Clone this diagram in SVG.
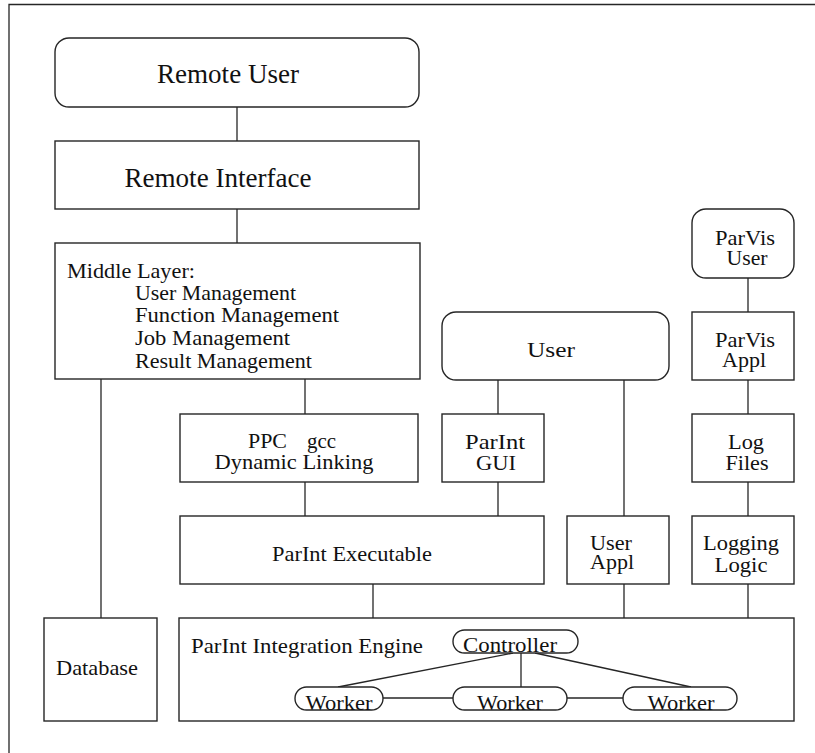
<svg xmlns="http://www.w3.org/2000/svg" width="815" height="753" viewBox="0 0 815 753">
<style>
.b{fill:#fff;stroke:#262626;stroke-width:1.4}
.c{fill:none;stroke:#262626;stroke-width:1.3}
text{fill:#111;font-size:22px}
.m{text-anchor:middle}
.big{font-size:27px}
</style>
<rect width="815" height="753" fill="#fff"/>
<path class="c" d="M9,753 V4.5 H815" stroke-width="1.6"/>
<g font-family="'Liberation Serif', Tinos, 'Nimbus Roman', 'DejaVu Serif', serif">
<g id="connectors">
<line class="c" x1="237" y1="107" x2="237" y2="141"/>
<line class="c" x1="237" y1="209" x2="237" y2="243"/>
<line class="c" x1="101" y1="379" x2="101" y2="618"/>
<line class="c" x1="305" y1="379" x2="305" y2="414"/>
<line class="c" x1="305" y1="482" x2="305" y2="516"/>
<line class="c" x1="498" y1="380" x2="498" y2="414"/>
<line class="c" x1="498" y1="482" x2="498" y2="516"/>
<line class="c" x1="624" y1="380" x2="624" y2="516"/>
<line class="c" x1="748" y1="278" x2="748" y2="312"/>
<line class="c" x1="748" y1="380" x2="748" y2="414"/>
<line class="c" x1="748" y1="482" x2="748" y2="516"/>
<line class="c" x1="373" y1="584" x2="373" y2="618"/>
<line class="c" x1="624" y1="584" x2="624" y2="618"/>
<line class="c" x1="748" y1="584" x2="748" y2="618"/>
</g>
<g id="remote-user"><rect class="b" x="55" y="38" width="364" height="69" rx="14"/><text class="m big" x="228" y="83" textLength="142" lengthAdjust="spacingAndGlyphs">Remote User</text></g>
<g id="remote-interface"><rect class="b" x="55" y="141" width="364" height="68"/><text class="m big" x="218" y="187" textLength="187" lengthAdjust="spacingAndGlyphs">Remote Interface</text></g>
<g id="middle-layer"><rect class="b" x="55" y="243" width="365" height="136"/>
<text x="67" y="278" textLength="128" lengthAdjust="spacingAndGlyphs">Middle Layer:</text>
<text x="135" y="300" textLength="161" lengthAdjust="spacingAndGlyphs">User Management</text>
<text x="135" y="322" textLength="204" lengthAdjust="spacingAndGlyphs">Function Management</text>
<text x="135" y="345" textLength="155" lengthAdjust="spacingAndGlyphs">Job Management</text>
<text x="135" y="368" textLength="177" lengthAdjust="spacingAndGlyphs">Result Management</text></g>
<g id="ppc"><rect class="b" x="180" y="414" width="238" height="68"/><text x="248" y="448" textLength="39" lengthAdjust="spacingAndGlyphs">PPC</text><text x="307" y="448" textLength="29" lengthAdjust="spacingAndGlyphs">gcc</text><text class="m" x="294" y="469" textLength="159" lengthAdjust="spacingAndGlyphs">Dynamic Linking</text></g>
<g id="user"><rect class="b" x="442" y="312" width="227" height="68" rx="14"/><text class="m" x="551" y="357" font-size="24" textLength="48" lengthAdjust="spacingAndGlyphs">User</text></g>
<g id="parint-gui"><rect class="b" x="442" y="414" width="102" height="68"/><text class="m" x="495" y="449" textLength="60" lengthAdjust="spacingAndGlyphs">ParInt</text><text class="m" x="496" y="470" textLength="40" lengthAdjust="spacingAndGlyphs">GUI</text></g>
<g id="parvis-user"><rect class="b" x="692" y="209" width="102" height="69" rx="14"/><text class="m" x="745" y="245" textLength="60" lengthAdjust="spacingAndGlyphs">ParVis</text><text class="m" x="747" y="265" textLength="41" lengthAdjust="spacingAndGlyphs">User</text></g>
<g id="parvis-appl"><rect class="b" x="692" y="312" width="102" height="68"/><text class="m" x="745" y="347" textLength="60" lengthAdjust="spacingAndGlyphs">ParVis</text><text class="m" x="744" y="367" textLength="44" lengthAdjust="spacingAndGlyphs">Appl</text></g>
<g id="log-files"><rect class="b" x="692" y="414" width="102" height="68"/><text class="m" x="746" y="449" textLength="36" lengthAdjust="spacingAndGlyphs">Log</text><text class="m" x="747" y="470" textLength="43" lengthAdjust="spacingAndGlyphs">Files</text></g>
<g id="parint-executable"><rect class="b" x="180" y="516" width="364" height="68"/><text class="m" x="352" y="561" textLength="160" lengthAdjust="spacingAndGlyphs">ParInt Executable</text></g>
<g id="user-appl"><rect class="b" x="567" y="516" width="102" height="68"/><text class="m" x="611" y="550" textLength="42" lengthAdjust="spacingAndGlyphs">User</text><text class="m" x="612" y="569" textLength="44" lengthAdjust="spacingAndGlyphs">Appl</text></g>
<g id="logging-logic"><rect class="b" x="692" y="516" width="102" height="68"/><text class="m" x="741" y="550" textLength="76" lengthAdjust="spacingAndGlyphs">Logging</text><text class="m" x="741" y="572" textLength="53" lengthAdjust="spacingAndGlyphs">Logic</text></g>
<g id="database"><rect class="b" x="44" y="618" width="113" height="103"/><text class="m" x="97" y="675" textLength="82" lengthAdjust="spacingAndGlyphs">Database</text></g>
<g id="integration-engine"><rect class="b" x="179" y="618" width="615" height="103"/><text x="191" y="653" textLength="232" lengthAdjust="spacingAndGlyphs">ParInt Integration Engine</text></g>
<g id="engine-connectors">
<line class="c" x1="513" y1="653" x2="338" y2="687"/>
<line class="c" x1="521" y1="653" x2="521" y2="687"/>
<line class="c" x1="535" y1="653" x2="691" y2="687"/>
<line class="c" x1="383" y1="698" x2="453" y2="698"/>
<line class="c" x1="567" y1="698" x2="623" y2="698"/>
</g>
<g id="controller"><rect class="b" x="453" y="630" width="125" height="23" rx="11.5"/><text class="m" x="510" y="652" textLength="94" lengthAdjust="spacingAndGlyphs">Controller</text></g>
<g id="worker-1"><rect class="b" x="295" y="687" width="88" height="23" rx="11.5"/><text class="m" x="339" y="710" textLength="67" lengthAdjust="spacingAndGlyphs">Worker</text></g>
<g id="worker-2"><rect class="b" x="453" y="687" width="114" height="23" rx="11.5"/><text class="m" x="510" y="710" textLength="66" lengthAdjust="spacingAndGlyphs">Worker</text></g>
<g id="worker-3"><rect class="b" x="623" y="687" width="114" height="23" rx="11.5"/><text class="m" x="681" y="710" textLength="67" lengthAdjust="spacingAndGlyphs">Worker</text></g>
</g>
</svg>
